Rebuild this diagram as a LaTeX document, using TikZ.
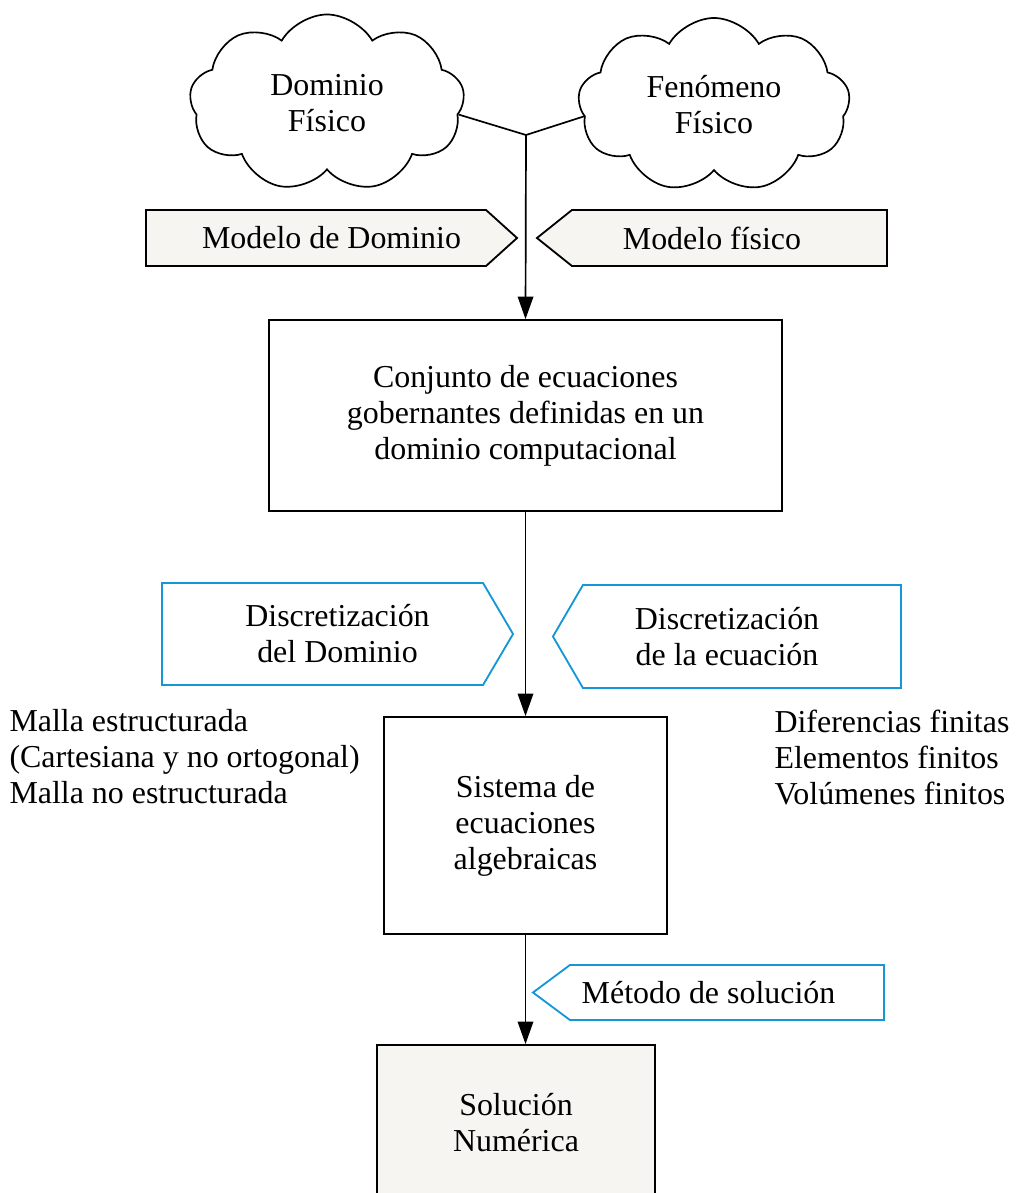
\documentclass[tikz,border=0pt]{standalone}
\usepackage{fontspec}
\setmainfont{Liberation Serif}
\usetikzlibrary{shapes.symbols,arrows.meta,backgrounds}
\definecolor{grisclaro}{RGB}{246,245,241}
\definecolor{azul}{RGB}{20,150,215}
\tikzset{
  nube/.style={cloud, draw, cloud puffs=9, cloud puff arc=120, cloud ignores aspect, align=center},
  caja/.style={draw, rectangle, align=center},
  rotulo/.style={rectangle, align=center, inner sep=0pt, outer sep=0pt},
  contorno/.style={line width=1.3pt},
  conector/.style={-{Triangle[length=16pt,width=11pt]}}
}
% contorno de flecha alrededor de un nodo (nombre, largo de la punta)
\newcommand{\flechaDer}[3][]{\draw[contorno,#1] (#2.north west) -- ([xshift=-#3]#2.north east)
  -- (#2.east) -- ([xshift=-#3]#2.south east) -- (#2.south west) -- cycle;}
\newcommand{\flechaIzq}[3][]{\draw[contorno,#1] (#2.north east) -- ([xshift=#3]#2.north west)
  -- (#2.west) -- ([xshift=#3]#2.south west) -- (#2.south east) -- cycle;}
\begin{document}
\begin{tikzpicture}[x=0.025cm, y=-0.025cm, line width=1.2pt, font=\fontsize{22.7}{25.6}\selectfont]
\useasboundingbox (0,0) rectangle (1016,1193);

\node[nube, minimum width=6.875cm, minimum height=4.425cm] (dom) at (327,103) {Dominio\\Físico};
\node[nube, minimum width=6.8cm, minimum height=4.35cm] (fen) at (714,105) {Fenómeno\\Físico};

\node[rotulo, minimum width=9.275cm, minimum height=1.4cm] (mdom) at (331.5,238) {Modelo de Dominio};
\node[rotulo, minimum width=8.75cm, minimum height=1.4cm] (mfis) at (712,238) {Modelo físico};

\node[caja, minimum width=12.825cm, minimum height=4.775cm] (ec) at (525.5,415.5)
  {Conjunto de ecuaciones\\gobernantes definidas en un\\dominio computacional};

\node[rotulo, minimum width=8.775cm, minimum height=2.55cm] (ddom) at (337.5,634) {Discretización\\del Dominio};
\node[rotulo, minimum width=8.7cm, minimum height=2.575cm] (decu) at (727,636.5) {Discretización\\de la ecuación};

\node[align=left, anchor=west] (mallas) at (4,757)
  {Malla estructurada\\(Cartesiana y no ortogonal)\\Malla no estructurada};
\node[align=left, anchor=west] (metodos) at (769,757)
  {Diferencias finitas\\Elementos finitos\\Volúmenes finitos};

\node[caja, minimum width=7.075cm, minimum height=5.425cm] (alg) at (525.5,825.5)
  {Sistema de\\ecuaciones\\algebraicas};

\node[rotulo, minimum width=8.775cm, minimum height=1.375cm] (met) at (708.5,992.5) {Método de solución};

\node[caja, fill=grisclaro, minimum width=6.95cm, minimum height=3.9cm] (sol) at (516,1123)
  {Solución\\Numérica};

\begin{scope}[on background layer]
  \flechaDer[fill=grisclaro]{mdom}{0.775cm}
  \flechaIzq[fill=grisclaro]{mfis}{0.875cm}
  \flechaDer[draw=azul]{ddom}{0.75cm}
  \flechaIzq[draw=azul]{decu}{0.75cm}
  \flechaIzq[draw=azul]{met}{0.925cm}
\end{scope}

\coordinate (jun) at (526,135);
\draw (dom.-5) -- (jun) -- (fen.185);
\draw[conector] (jun) -- (ec.north);
\draw[conector] (ec.south) -- (alg.north);
\draw[conector] (alg.south) -- (alg.south |- sol.north);
\end{tikzpicture}
\end{document}
